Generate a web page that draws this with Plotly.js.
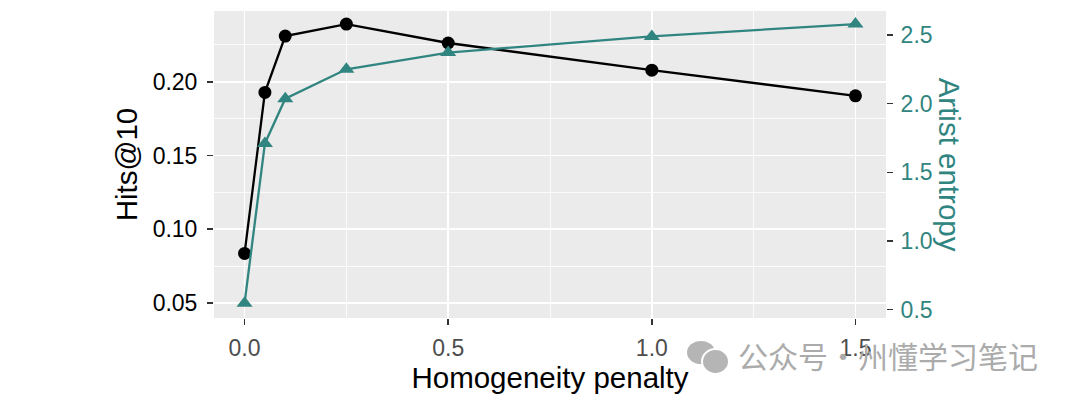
<!DOCTYPE html>
<html>
<head>
<meta charset="utf-8">
<script src="https://cdn.plot.ly/plotly-3.0.1.min.js"></script>
<style>html,body{margin:0;padding:0;background:#fff;}#chart{width:1080px;height:400px;}</style>
</head>
<body>
<div id="chart"></div>
<script>
// Data
const penalty = [0, 0.05, 0.1, 0.25, 0.5, 1.0, 1.5];
const hitsAt10 = [0.0836, 0.1928, 0.231, 0.2391, 0.2263, 0.2079, 0.1905];
const artistEntropy = [0.545, 1.71, 2.036, 2.25, 2.372, 2.49, 2.58];
const xTickVals = [0, 0.5, 1.0, 1.5];
const xTickText = ['0.0', '0.5', '1.0', '1.5'];
const yTickVals = [0.05, 0.10, 0.15, 0.20];
const yTickText = ['0.05', '0.10', '0.15', '0.20'];
const y2TickVals = [0.5, 1.0, 1.5, 2.0, 2.5];
const y2TickText = ['0.5', '1.0', '1.5', '2.0', '2.5'];

const TEAL = '#318580';
const FONT = 'Liberation Sans, Arial, Helvetica, sans-serif';

const traces = [
  {
    x: penalty, y: hitsAt10, type: 'scatter', mode: 'lines+markers',
    line: {color: '#000000', width: 2.3},
    marker: {symbol: 'circle', size: 13, color: '#000000'},
    yaxis: 'y', showlegend: false, hoverinfo: 'x+y'
  },
  {
    x: penalty, y: artistEntropy, type: 'scatter', mode: 'lines+markers',
    line: {color: TEAL, width: 2.3},
    marker: {symbol: 'triangle-up', size: 14, color: TEAL},
    yaxis: 'y2', showlegend: false, hoverinfo: 'x+y'
  }
];

const layout = {
  width: 1080, height: 400,
  margin: {l: 214, r: 194, t: 11, b: 82, pad: 0},
  paper_bgcolor: '#ffffff',
  plot_bgcolor: '#EBEBEB',
  font: {family: FONT, color: '#000'},
  xaxis: {
    range: [-0.075, 1.575],
    tickmode: 'array', tickvals: xTickVals, ticktext: xTickText,
    ticks: 'outside', ticklen: 6, tickwidth: 1.5, tickcolor: '#333333',
    tickfont: {size: 23, color: '#4D4D4D', family: FONT},
    ticklabelstandoff: 3,
    showgrid: true, gridcolor: '#ffffff', gridwidth: 1.6,
    minor: {tickmode: 'array', tickvals: [0.25, 0.75, 1.25], showgrid: true, gridcolor: '#ffffff', gridwidth: 0.8, ticks: ''},
    zeroline: false, showline: false,
    title: {text: 'Homogeneity penalty', font: {size: 29.5, color: '#000', family: FONT}, standoff: 4}
  },
  yaxis: {
    range: [0.0398, 0.248],
    tickmode: 'array', tickvals: yTickVals, ticktext: yTickText,
    ticks: 'outside', ticklen: 6, tickwidth: 1.5, tickcolor: '#333333',
    tickfont: {size: 23, color: '#000000', family: FONT},
    ticklabelstandoff: 5,
    showgrid: true, gridcolor: '#ffffff', gridwidth: 1.6,
    minor: {tickmode: 'array', tickvals: [0.075, 0.125, 0.175, 0.225], showgrid: true, gridcolor: '#ffffff', gridwidth: 0.8, ticks: ''},
    zeroline: false, showline: false,
    title: {text: 'Hits@10', font: {size: 29.5, color: '#000', family: FONT}, standoff: 6}
  },
  yaxis2: {
    overlaying: 'y', side: 'right',
    range: [0.438, 2.675],
    tickmode: 'array', tickvals: y2TickVals, ticktext: y2TickText,
    ticks: 'outside', ticklen: 6, tickwidth: 1.5, tickcolor: '#333333',
    tickfont: {size: 23, color: TEAL, family: FONT},
    ticklabelstandoff: 3,
    showgrid: false, zeroline: false, showline: false
  },
  annotations: [
    {
      text: 'Artist entropy', xref: 'paper', yref: 'paper',
      x: 1.095, y: 0.5, xanchor: 'center', yanchor: 'middle',
      textangle: 90, showarrow: false,
      font: {size: 29.5, color: TEAL, family: FONT}
    },
    {
      text: '公众号·州懂学习笔记', xref: 'paper', yref: 'paper',
      x: (736-214)/672, y: (318-355)/307, xanchor: 'left', yanchor: 'middle',
      showarrow: false,
      font: {size: 30, color: '#ABABAB', family: 'Noto Sans CJK SC, sans-serif'}
    }
  ],
  shapes: [
    {type: 'circle', xref: 'paper', yref: 'paper', layer: 'above',
     x0: (687-214)/672, x1: (715-214)/672, y0: (318-364)/307, y1: (318-341)/307,
     fillcolor: '#B5B5B5', line: {width: 0}},
    {type: 'circle', xref: 'paper', yref: 'paper', layer: 'above',
     x0: (702-214)/672, x1: (729-214)/672, y0: (318-374)/307, y1: (318-349)/307,
     fillcolor: '#B5B5B5', line: {width: 2, color: '#ffffff'}}
  ]
};

Plotly.newPlot('chart', traces, layout, {displayModeBar: false, staticPlot: true});
</script>
</body>
</html>
